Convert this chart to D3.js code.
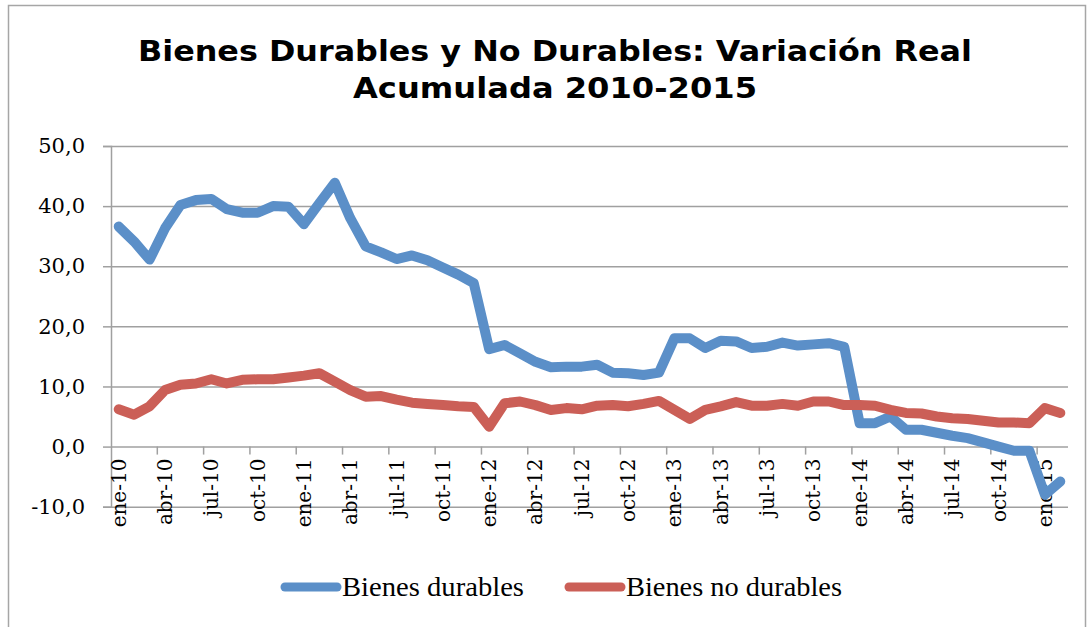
<!DOCTYPE html>
<html>
<head>
<meta charset="utf-8">
<script src="https://cdn.jsdelivr.net/npm/d3@7/dist/d3.min.js"></script>
<style>
  body { margin: 0; background: #fff; }
  svg { display: block; }
</style>
</head>
<body>
<script>
// meses (ene-10 .. feb-15)
var mesesAbr = ["ene","feb","mar","abr","may","jun","jul","ago","sep","oct","nov","dic"];
var anios = ["10","11","12","13","14","15"];
var months = [];
anios.forEach(function(a) {
  mesesAbr.forEach(function(m) { months.push(m + "-" + a); });
});
months = months.slice(0, 62);

var durables = [36.6,34.1,31.1,36.3,40.2,41.0,41.2,39.5,38.9,38.9,
                40.0,39.9,37.0,40.5,43.9,38.0,33.3,32.3,31.2,31.8,
                31.0,29.8,28.6,27.2,16.2,16.9,15.5,14.1,13.2,13.3,
                13.3,13.6,12.3,12.2,11.9,12.3,18.0,18.0,16.4,17.6,
                17.5,16.4,16.6,17.3,16.8,17.0,17.2,16.6,3.9,3.9,
                5.0,2.8,2.8,2.3,1.8,1.4,0.7,0.0,-0.7,-0.7,
                -8.0,-5.8];
var noDurables = [6.2,5.3,6.7,9.4,10.3,10.5,11.2,10.5,11.1,11.2,
                  11.2,11.5,11.8,12.2,10.8,9.4,8.3,8.4,7.8,7.3,
                  7.1,6.9,6.7,6.6,3.3,7.2,7.5,6.9,6.1,6.4,
                  6.2,6.8,6.9,6.7,7.1,7.6,6.1,4.6,6.1,6.7,
                  7.4,6.8,6.8,7.1,6.8,7.5,7.5,6.9,6.9,6.8,
                  6.1,5.6,5.5,5.0,4.7,4.6,4.3,4.0,4.0,3.9,
                  6.4,5.6];
var yTicks = [-10, 0, 10, 20, 30, 40, 50];
var seriesNames = ["Bienes durables", "Bienes no durables"];
var colors = ["#5b8fc8", "#cb5f57"];

var W = 1092, H = 627;
var plotLeft = 111, plotRight = 1068, plotTop = 146, plotBottom = 506.7;

var svg = d3.select("body").append("svg").attr("width", W).attr("height", H);

// marco del gráfico
svg.append("rect")
    .attr("x", 8.5).attr("y", 5.5).attr("width", 1077).attr("height", 700)
    .attr("fill", "none").attr("stroke", "#a6a6a6").attr("stroke-width", 1.5);

// título
var title = svg.append("text")
    .attr("text-anchor", "middle")
    .attr("font-family", "'DejaVu Sans', Verdana, sans-serif")
    .attr("font-weight", "bold")
    .attr("font-size", 28)
    .attr("fill", "#000");
title.append("tspan").attr("x", 555).attr("y", 61)
    .attr("textLength", 834).attr("lengthAdjust", "spacingAndGlyphs")
    .text("Bienes Durables y No Durables: Variación Real");
title.append("tspan").attr("x", 555).attr("y", 98)
    .attr("textLength", 404).attr("lengthAdjust", "spacingAndGlyphs")
    .text("Acumulada 2010-2015");

var x = d3.scaleBand().domain(months).range([plotLeft, plotRight]);
var y = d3.scaleLinear().domain([-10, 50]).range([plotBottom, plotTop]);
var cx = function(i) { return x(months[i]) + x.bandwidth() / 2; };

var fmt = d3.formatLocale({ decimal: ",", thousands: ".", grouping: [3], currency: ["", ""], minus: "-" }).format(".1f");

// rejilla
svg.append("g")
    .attr("transform", "translate(" + plotLeft + ",0)")
    .call(d3.axisLeft(y).tickValues(yTicks).tickSize(-(plotRight - plotLeft)).tickFormat(""))
    .call(function(g) {
      g.select(".domain").remove();
      g.selectAll("line").attr("stroke", "#a0a0a0").attr("stroke-width", 1.5);
    });

// eje y
svg.append("g")
    .attr("transform", "translate(" + plotLeft + ",0)")
    .call(d3.axisLeft(y).tickValues(yTicks).tickSize(8).tickPadding(18).tickFormat(fmt))
    .call(function(g) {
      g.select(".domain").attr("stroke", "#a0a0a0").attr("stroke-width", 1.5);
      g.selectAll("line").attr("stroke", "#a0a0a0").attr("stroke-width", 1.5);
      g.selectAll("text")
        .attr("font-family", "'DejaVu Serif', serif")
        .attr("font-size", 21)
        .attr("fill", "#000");
    });

// eje x (en y = 0)
var labelMonths = months.filter(function(d, i) { return i % 3 === 0; });
svg.append("g")
    .attr("transform", "translate(0," + y(0) + ")")
    .call(d3.axisBottom(x).tickValues(labelMonths).tickSize(0))
    .call(function(g) {
      g.select(".domain").remove();
      g.selectAll("text")
        .attr("transform", "rotate(-90)")
        .attr("text-anchor", "end")
        .attr("x", -12)
        .attr("y", 0)
        .attr("dy", "0.35em")
        .attr("font-family", "'DejaVu Serif', serif")
        .attr("font-size", 20)
        .attr("fill", "#000");
    });

// marcas del eje x entre categorías
var tickIdx = d3.range(3, months.length, 3);
svg.append("g").selectAll("line")
    .data(tickIdx)
    .enter().append("line")
      .attr("x1", function(i) { return x(months[i]); })
      .attr("x2", function(i) { return x(months[i]); })
      .attr("y1", y(0))
      .attr("y2", y(0) + 8)
      .attr("stroke", "#a0a0a0")
      .attr("stroke-width", 1.5);

// líneas
var line = d3.line()
    .x(function(d, i) { return cx(i); })
    .y(function(d) { return y(d); });

svg.append("g").selectAll("path")
    .data([durables, noDurables])
    .enter().append("path")
      .attr("d", line)
      .attr("fill", "none")
      .attr("stroke", function(d, i) { return colors[i]; })
      .attr("stroke-width", 10)
      .attr("stroke-linejoin", "round")
      .attr("stroke-linecap", "round");

// leyenda
var legendX = [281, 565];
var legendW = [182, 216];
var lg = svg.append("g").selectAll("g")
    .data(seriesNames)
    .enter().append("g")
      .attr("transform", function(d, i) { return "translate(" + legendX[i] + ",587)"; });
lg.append("line")
    .attr("x1", 4).attr("x2", 56)
    .attr("stroke", function(d, i) { return colors[i]; })
    .attr("stroke-width", 9)
    .attr("stroke-linecap", "round");
lg.append("text")
    .attr("x", 61).attr("y", 9)
    .attr("font-family", "'Liberation Serif', serif")
    .attr("font-size", 27)
    .attr("textLength", function(d, i) { return legendW[i]; })
    .attr("lengthAdjust", "spacingAndGlyphs")
    .attr("fill", "#000")
    .text(function(d) { return d; });
</script>
</body>
</html>
